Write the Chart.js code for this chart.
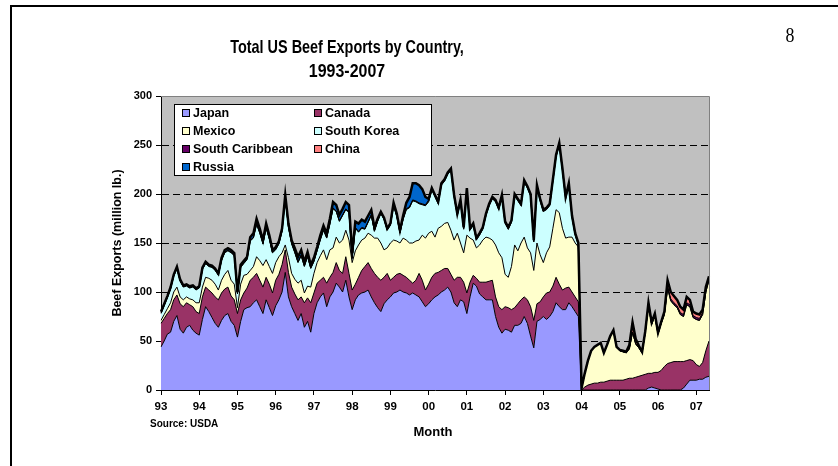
<!DOCTYPE html>
<html>
<head>
<meta charset="utf-8">
<script src="https://cdn.jsdelivr.net/npm/chart.js@4"></script>
<style>
html, body { margin: 0; padding: 0; background: #fff; }
#wrap { position: relative; width: 838px; height: 466px; overflow: hidden; }
#frame { position: absolute; left: 10px; top: 5px; width: 900px; height: 500px;
         border-left: 2px solid #000; border-top: 2px solid #000; }
#c { position: absolute; left: 0; top: 0; }
</style>
</head>
<body>
<div id="wrap">
  <div id="frame"></div>
  <canvas id="c" width="838" height="466"></canvas>
</div>
<script>
// --- DATA (million lb., monthly Jan 1993 - May 2007) ---
const yearLabels = ['93','94','95','96','97','98','99','00','01','02','03','04','05','06','07'];

const japan = [
  44,50,57,59,70,76,62,58,64,66,61,58,
  56,72,85,80,74,68,64,71,76,78,70,66,
  54,70,82,84,85,89,92,85,78,92,84,76,
  86,92,100,120,95,85,78,71,78,64,70,59,
  78,89,95,99,85,95,100,109,105,100,112,95,
  82,92,97,99,100,102,95,89,84,80,88,92,
  95,99,100,102,100,99,97,99,97,95,90,85,
  88,92,95,97,100,102,105,100,89,85,92,90,
  78,95,109,106,98,95,92,92,92,75,64,58,
  62,61,59,66,66,68,75,68,55,43,70,72,
  75,72,75,80,89,85,82,82,89,85,80,75,
  0,0,0,0,0,0,0,0,0,0,0,0,
  0,0,0,0,0,0,0,0,0,2,3,2,
  1,0,0,0,0,0,0,0,2,6,10,10,
  10,11,11,13,14
];
const canada = [
  24,23,21,23,22,21,26,27,25,21,24,22,
  22,23,20,22,25,27,28,28,27,27,26,26,
  24,22,17,20,27,26,27,27,27,23,24,23,
  26,26,28,23,25,20,20,21,17,25,24,30,
  21,20,17,16,24,20,20,21,17,19,24,24,
  20,16,18,23,26,28,29,30,31,32,27,27,
  17,16,18,17,17,16,15,10,15,24,22,17,
  20,23,24,23,22,22,19,18,23,30,23,20,
  21,15,8,8,12,15,18,19,20,20,21,24,
  23,23,23,18,22,24,20,24,30,28,18,18,
  20,27,25,26,26,23,20,22,16,15,15,15,
  0,3,5,6,7,7,8,8,9,10,10,10,
  10,10,11,12,12,13,14,15,16,15,14,16,
  17,20,24,27,28,29,29,29,27,24,21,20,
  16,13,17,27,36
];
const mexico = [
  3,4,5,7,8,8,7,7,6,6,7,9,
  11,10,10,12,13,13,10,13,15,17,16,16,
  6,16,18,14,10,11,17,20,22,18,18,20,
  18,18,12,5,15,14,15,17,17,10,12,16,
  20,21,25,28,24,28,25,26,28,34,27,34,
  28,34,33,31,29,30,34,36,40,38,28,26,
  38,38,34,31,38,38,38,41,40,34,46,53,
  52,47,37,45,45,46,47,45,41,45,35,30,
  59,45,36,31,38,43,46,44,41,53,55,53,
  33,31,44,64,54,58,61,53,55,51,62,48,
  35,41,46,59,69,73,63,51,51,56,55,56,
  2,14,25,34,37,39,40,30,37,45,51,34,
  30,29,27,30,47,34,29,23,43,70,50,58,
  39,48,53,77,63,58,55,48,46,57,54,44,
  46,47,49,60,62
];
const southKorea = [
  7,9,11,14,16,19,16,13,11,11,13,13,
  15,18,14,12,13,14,15,20,22,20,28,29,
  14,17,12,15,30,29,33,28,22,32,28,21,
  13,13,22,48,31,30,27,21,25,27,30,19,
  12,12,16,20,22,26,40,26,22,25,21,28,
  4,23,13,12,9,11,20,7,17,30,31,18,
  18,35,25,10,19,31,36,43,40,37,31,33,
  32,42,41,25,42,43,49,61,44,18,42,24,
  46,8,15,8,10,11,22,33,42,44,44,62,
  52,49,45,50,51,38,56,61,58,29,57,55,
  52,44,42,48,54,69,59,40,53,20,8,2,
  0,0,0,0,0,0,0,0,0,0,0,0,
  0,0,0,0,0,0,0,0,0,0,0,0,
  0,0,0,0,0,0,0,0,0,0,0,0,
  0,0,0,0,0
];
const southCaribbean = [
  0.5,0.5,0.5,0.5,0.5,0.5,0.5,0.5,0.5,0.5,0.5,0.5,
  0.5,0.5,0.5,0.5,0.5,0.5,0.5,0.5,0.5,0.5,0.5,0.5,
  0.5,0.5,0.5,0.5,0.5,0.5,0.5,0.5,0.5,0.5,0.5,0.5,
  0.5,0.5,0.5,0.5,0.5,0.5,0.5,0.5,0.5,0.5,0.5,0.5,
  0.5,0.5,0.5,0.5,0.5,0.5,0.5,0.5,0.5,0.5,0.5,0.5,
  0.5,0.5,0.5,0.5,0.5,0.5,0.5,0.5,0.5,0.5,0.5,0.5,
  0.5,0.5,0.5,0.5,0.5,0.5,0.5,0.5,0.5,0.5,0.5,0.5,
  0.5,0.5,0.5,0.5,0.5,0.5,0.5,0.5,0.5,0.5,0.5,0.5,
  0.5,0.5,0.5,0.5,0.5,0.5,0.5,0.5,0.5,0.5,0.5,0.5,
  0.5,0.5,0.5,0.5,0.5,0.5,0.5,0.5,0.5,0.5,0.5,0.5,
  0.5,0.5,0.5,0.5,0.5,0.5,0.5,0.5,0.5,0.5,0.5,0.5,
  0,0,0,0,0,0,0,0,0,0,0,0,
  0,0,0,0,0,0,0,0,0,0,0,0,
  0.5,0.5,1,2,2,2,2,2,2,2,2,2,
  2,2,2,2,2
];
const china = [
  0.3,0.3,0.3,0.3,0.3,0.3,0.3,0.3,0.3,0.3,0.3,0.3,
  0.3,0.3,0.3,0.3,0.3,0.3,0.3,0.3,0.3,0.3,0.3,0.3,
  0.3,0.3,0.3,0.3,0.3,0.3,0.3,0.3,0.3,0.3,0.3,0.3,
  0.3,0.3,0.3,0.3,0.3,0.3,0.3,0.3,0.3,0.3,0.3,0.3,
  0.3,0.3,0.3,0.3,0.3,0.3,0.3,0.3,0.3,0.3,0.3,0.3,
  0.3,0.3,0.3,0.3,0.3,0.3,0.3,0.3,0.3,0.3,0.3,0.3,
  0.5,0.5,0.5,0.5,0.5,0.5,0.5,0.5,0.5,0.5,0.5,0.5,
  1.5,1.5,1.5,1.5,1.5,1.5,1.5,1.5,1.5,1.5,1.5,1.5,
  1.5,1.5,1.5,1.5,1.5,1.5,1.5,1.5,1.5,1.5,1.5,1.5,
  1.5,1.5,1.5,1.5,1.5,1.5,1.5,1.5,1.5,1.5,1.5,1.5,
  1.5,1.5,1.5,1.5,1.5,1.5,1.5,1.5,1.5,1.5,1.5,1.5,
  0,0,0,0,0,0,0,0,0,0,0,0,
  1,1,1,4,10,5,2,1,1,2,2,2,
  1,1,2,6,7,7,6,6,5,6,5,4,
  4,4,3,3,2
];
const russia = [
  1,1,1,1,1,1,1,1,1,1,1,1,
  1,1,1,1,1,1,1,2,2,2,2,2,
  1,2,2,2,3,4,5,4,3,4,3,2,
  2,2,2,2,3,3,4,5,5,4,4,3,
  3,3,4,4,4,5,6,6,6,6,7,7,
  5,6,8,8,7,6,5,3,2,1,1,1,
  1,2,2,2,3,6,10,17,18,18,15,8,
  1,0,0,0,0,0,0,0,0,0,0,0,
  0,0,0,0,0,0,0,0,0,0,0,0,
  0,0,0,0,0,0,0,0,0,0,0,0,
  0,0,0,0,0,0,0,0,0,0,0,0,
  0,0,0,0,0,0,0,0,0,0,0,0,
  0,0,0,0,0,0,0,0,0,0,0,0,
  0,0,0,0,0,0,0,0,0,0,0,0,
  0,0,0,0,0
];

// one category per month, named by its year
const monthLabels = [];
yearLabels.forEach(y => { for (let m = 0; m < 12; m++) monthLabels.push(y); });
monthLabels.length = japan.length;

const FONT = '"Liberation Sans", Arial, sans-serif';

function layer(label, data, color, fill, width) {
  return {
    label: label,
    data: data,
    backgroundColor: color,
    borderColor: '#000',
    borderWidth: width || 1,
    fill: fill,
    pointRadius: 0,
    tension: 0
  };
}

// narrow-looking title text
function squeezedText(ctx, text, x, y, sx) {
  ctx.save();
  ctx.translate(x, y);
  ctx.scale(sx, 1);
  ctx.fillText(text, 0, 0);
  ctx.restore();
}

// --- PLOT BACKGROUND, TEXTS, LEGEND ---
const decorations = {
  id: 'decorations',
  beforeDraw(chart) {
    const { ctx, chartArea: a } = chart;
    ctx.save();
    ctx.fillStyle = '#c0c0c0';
    ctx.fillRect(a.left, a.top, a.right - a.left, a.bottom - a.top);
    ctx.restore();
  },
  afterDraw(chart) {
    const { ctx, chartArea: a } = chart;
    ctx.save();
    // plot border (top / right)
    ctx.strokeStyle = '#808080';
    ctx.lineWidth = 1;
    ctx.beginPath();
    ctx.moveTo(a.left, a.top + 0.5);
    ctx.lineTo(a.right + 0.5, a.top + 0.5);
    ctx.lineTo(a.right + 0.5, a.bottom);
    ctx.stroke();

    ctx.fillStyle = '#000';
    ctx.textBaseline = 'middle';
    ctx.textAlign = 'center';
    ctx.font = 'bold 19px ' + FONT;
    squeezedText(ctx, 'Total US Beef Exports by Country,', 347, 48, 0.76);
    squeezedText(ctx, '1993-2007', 347, 72, 0.84);

    ctx.font = '21px "Liberation Serif", serif';
    squeezedText(ctx, '8', 790, 36, 0.85);

    ctx.font = 'bold 13px ' + FONT;
    ctx.fillText('Month', 433, 432);

    ctx.textAlign = 'left';
    ctx.font = 'bold 10px ' + FONT;
    ctx.fillText('Source: USDA', 150, 424);

    ctx.save();
    ctx.translate(118, 243);
    ctx.rotate(-Math.PI / 2);
    ctx.textAlign = 'center';
    ctx.font = 'bold 12.5px ' + FONT;
    ctx.fillText('Beef Exports (million lb.)', 0, 0);
    ctx.restore();

    // legend box inside plot area
    ctx.fillStyle = '#fff';
    ctx.fillRect(174, 104, 258, 72);
    ctx.strokeStyle = '#000';
    ctx.strokeRect(174.5, 104.5, 257, 71);
    ctx.font = 'bold 12.5px ' + FONT;
    ctx.textAlign = 'left';
    chart.data.datasets.forEach((ds, i) => {
      const col = i % 2, row = Math.floor(i / 2);
      const x = col === 0 ? 182 : 314;
      const y = 113 + row * 18;
      ctx.fillStyle = ds.backgroundColor;
      ctx.fillRect(x, y - 4, 8, 8);
      ctx.strokeStyle = '#000';
      ctx.strokeRect(x + 0.5, y - 3.5, 7, 7);
      ctx.fillStyle = '#000';
      ctx.fillText(ds.label, x + 11, y + 1);
    });
    ctx.restore();
  }
};

new Chart(document.getElementById('c'), {
  type: 'line',
  data: {
    labels: monthLabels,
    datasets: [
      layer('Japan', japan, '#9999ff', 'origin'),
      layer('Canada', canada, '#993366', '-1'),
      layer('Mexico', mexico, '#ffffcc', '-1'),
      layer('South Korea', southKorea, '#ccffff', '-1'),
      layer('South Caribbean', southCaribbean, '#660066', '-1'),
      layer('China', china, '#ff8080', '-1'),
      layer('Russia', russia, '#0066cc', '-1', 2.5)
    ]
  },
  options: {
    responsive: false,
    animation: false,
    layout: { padding: { left: 100, right: 129, top: 96, bottom: 46 } },
    plugins: {
      legend: { display: false },
      tooltip: { enabled: false },
      filler: { drawTime: 'beforeDatasetsDraw' }
    },
    scales: {
      x: {
        type: 'category',
        offset: false,
        afterBuildTicks: s => { s.ticks = s.ticks.filter(t => t.value % 12 === 0); },
        afterFit: s => { s.height = 30; },
        grid: { drawOnChartArea: false, color: '#000', tickLength: 5 },
        border: { color: '#000', width: 1 },
        ticks: { autoSkip: false, maxRotation: 0, color: '#000', padding: 5,
                 font: { family: FONT, size: 11.5, weight: 'bold' } }
      },
      y: {
        stacked: true,
        min: 0,
        max: 300,
        afterFit: s => { s.width = 61; },
        grid: {
          color: c => (c.tick && c.tick.value > 0 && c.tick.value < 300) ? '#000' : 'rgba(0,0,0,0)',
          tickColor: '#000',
          tickLength: 5
        },
        border: { color: '#000', width: 1, dash: [7, 4] },
        ticks: { stepSize: 50, color: '#000', padding: 4,
                 font: { family: FONT, size: 11, weight: 'bold' } }
      }
    }
  },
  plugins: [decorations]
});
</script>
</body>
</html>
